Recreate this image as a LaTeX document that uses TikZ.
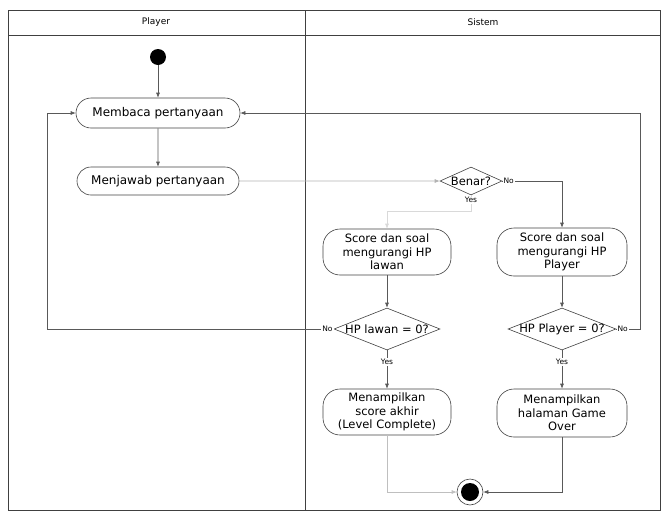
\documentclass[tikz,border=0pt]{standalone}
\usepackage{fontspec}
\setmainfont{DejaVu Sans}
\usetikzlibrary{arrows.meta,shapes.geometric,shapes.misc}
\tikzset{
	act/.style={draw=black!75, line width=0.6pt, rounded rectangle, inner sep=1pt, font=\fontsize{12}{13.5}\selectfont},
	actbox/.style={draw=black!75, line width=0.6pt, rounded corners=17pt, align=center, inner sep=1pt, font=\fontsize{11.5}{13.5}\selectfont},
	cond/.style={draw=black!75, line width=0.6pt, diamond, inner sep=0pt, font=\fontsize{11.5}{13}\selectfont},
	flow/.style={draw=black!65, line width=0.6pt, -{Latex[length=5pt,width=4pt]}},
	lbl/.style={fill=white, inner sep=1pt, font=\fontsize{7.5}{8}\selectfont},
	lane/.style={draw=black!75, line width=0.7pt}
}

\begin{document}
\begin{tikzpicture}[x=1pt, y=-1pt]
		%%%%% START %%%%%
		\useasboundingbox (0, 0) rectangle (665, 512);
		
		% swimlanes
		\draw[lane] (8, 10) rectangle (660, 510);
		\draw[lane] (8, 35) -- (660, 35);
		\draw[lane] (305, 10) -- (305, 510);
		\node[font=\fontsize{9}{10}\selectfont] (hplayer) at (156, 22) {Player};
		\node[font=\fontsize{9}{10}\selectfont] (hsistem) at (483, 22) {Sistem};
		
		% activities
		\node[circle, fill=black, minimum size=16pt, inner sep=0pt] (start) at (158, 57) {};
		\node[act, minimum width=166pt, minimum height=30pt] (baca) at (158, 113) {Membaca pertanyaan};
		\node[act, minimum width=164pt, minimum height=28pt] (jawab) at (158, 181) {Menjawab pertanyaan};
		\node[cond, minimum width=62pt, minimum height=28pt] (benar) at (471, 181) {\makebox[0pt]{Benar?}};
		
		\node[actbox, minimum width=128pt, minimum height=46pt] (scorelawan) at (387, 252) {Score dan soal\\mengurangi HP\\lawan};
		\node[actbox, minimum width=130pt, minimum height=48pt] (scoreplayer) at (562, 252) {Score dan soal\\mengurangi HP\\Player};
		
		\node[cond, minimum width=106pt, minimum height=42pt] (ceklawan) at (387, 329) {\makebox[0pt]{HP lawan = 0?}};
		\node[cond, minimum width=108pt, minimum height=42pt] (cekplayer) at (562, 329) {\makebox[0pt]{HP Player = 0?}};
		
		\node[actbox, minimum width=128pt, minimum height=46pt] (menang) at (387, 412) {Menampilkan\\score akhir\\(Level Complete)};
		\node[actbox, minimum width=130pt, minimum height=48pt] (gameover) at (562, 413) {Menampilkan\\halaman Game\\Over};
		
		\node[circle, draw=black!75, line width=0.6pt, minimum size=26pt, inner sep=0pt] (selesai) at (470, 492) {};
		\fill (selesai) circle (9);
		
		\coordinate (kiri) at (47, 0);
		\coordinate (kanan) at (640, 0);
		
		% connectors
		\draw[flow] (start) -- (baca);
		\draw[flow] (baca) -- (jawab);
		\draw[flow, draw=black!30] (jawab) -- (benar);
		\draw[flow] (benar.east) -| node[lbl, pos=0, anchor=west] {No} (scoreplayer.north);
		\draw[flow, draw=black!15] (benar.south) -- ++(0, 16) -| (scorelawan.north);
		\node[lbl, below=1pt] (yes1) at (benar.south) {Yes};
		\draw[flow] (scorelawan) -- (ceklawan);
		\draw[flow] (scoreplayer) -- (cekplayer);
		
		\draw[flow] (ceklawan.west) -- (ceklawan.west -| kiri) |- (baca.west);
		\node[lbl, anchor=east] (no2) at (ceklawan.west) {No};
		\draw[flow] (cekplayer.east) -- (cekplayer.east -| kanan) |- (baca.east);
		\node[lbl, anchor=west] (no3) at (cekplayer.east) {No};
		
		\draw[flow] (ceklawan) -- node[lbl, pos=0.3] {Yes} (menang);
		\draw[flow] (cekplayer) -- node[lbl, pos=0.3] {Yes} (gameover);
		
		\draw[flow, draw=black!25] (menang.south) |- (selesai.west);
		\draw[flow] (gameover.south) |- (selesai.east);
		%%%%% END %%%%%
\end{tikzpicture}
\end{document}
